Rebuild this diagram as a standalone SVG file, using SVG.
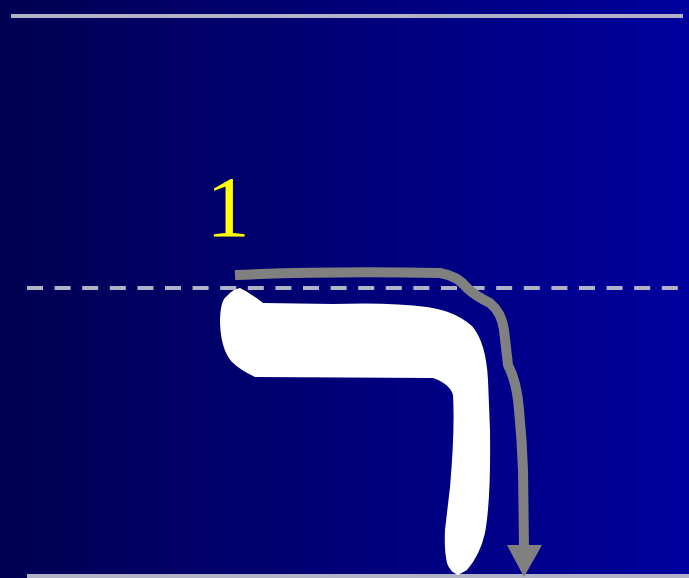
<svg xmlns="http://www.w3.org/2000/svg" width="689" height="578" viewBox="0 0 689 578">
<defs>
<linearGradient id="bg" x1="0" y1="0" x2="1" y2="0">
<stop offset="0" stop-color="#000052"/>
<stop offset="1" stop-color="#00009E"/>
</linearGradient>
</defs>
<style>
.guide{stroke:#B2B2C6;stroke-width:4;fill:none}
.stroke{stroke:#808080;stroke-width:10;fill:none;stroke-linejoin:round}
</style>
<rect width="689" height="578" fill="url(#bg)"/>
<line class="guide" x1="11" y1="16" x2="683" y2="16"/>
<line class="guide" x1="27" y1="288" x2="689" y2="288" stroke-dasharray="16 11.6"/>
<line class="guide" x1="27" y1="576" x2="689" y2="576"/>
<path fill="#FFFFFF" d="M240 288 Q252 294 263 303 L333 304 Q390 302 427 307 Q455 311 472 326 Q486 342 488 380 L490 430 Q491 500 485 533 Q480 555 467 570 L458 575 Q450 572 447 563 Q444 550 445 530 L450 487 Q455 430 453 395 Q450 384 433 378 L255 377 Q240 370 232 362 Q221 350 220 323 Q220 300 227 296 Q233 289 240 288 Z"/>
<g id="stroke1">
<path class="stroke" d="M235 275 Q330 271 440 273 Q458 276 467 288 Q477 297 490 303 Q502 313 504 330 L508 365 Q517 382 519 410 Q522 440 523 470 L524 548"/>
<polygon fill="#808080" points="507,545 542,545 524,577"/>
</g>
<text x="228" y="236" text-anchor="middle" font-family="Liberation Serif, serif" font-size="87" fill="#FFFF00">1</text>
</svg>
